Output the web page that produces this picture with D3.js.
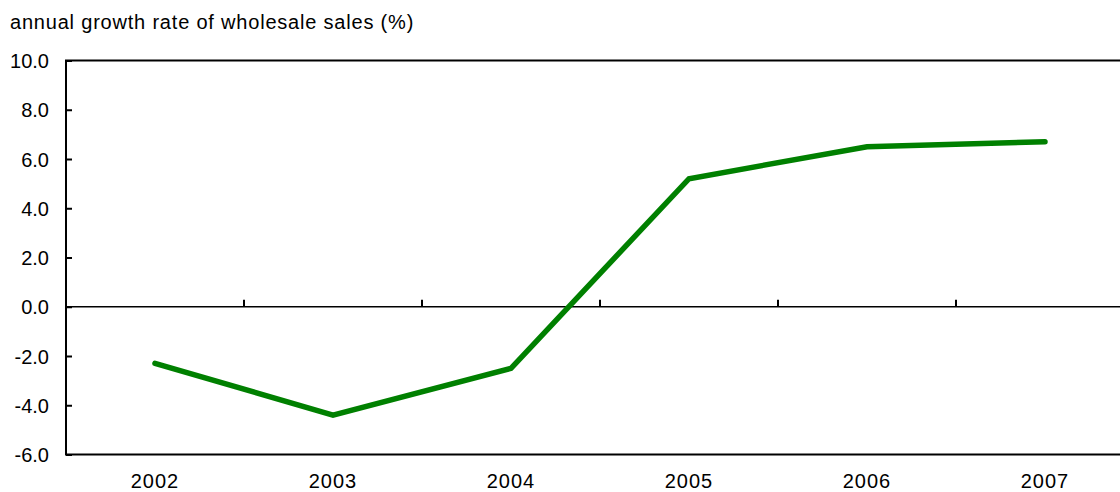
<!DOCTYPE html>
<html>
<head>
<meta charset="utf-8">
<script src="https://cdn.jsdelivr.net/npm/d3@7"></script>
<style>
  body { margin: 0; background: #fff; }
  svg text { font-family: "Liberation Sans", Arial, Helvetica, sans-serif; fill: #000; }
</style>
</head>
<body>
<script>
// data
var years = ["2002", "2003", "2004", "2005", "2006", "2007"];
var growth = [-2.3, -4.4, -2.5, 5.2, 6.5, 6.7];
var yTicks = [-6, -4, -2, 0, 2, 4, 6, 8, 10];
var title = "annual growth rate of wholesale sales (%)";

var W = 1120, H = 492;
var margin = {top: 60.5, left: 66},
  plotW = 1068,   // plot runs past the right edge of the window
  plotH = 394;

var svg = d3.select("body").append("svg")
  .attr("width", W)
  .attr("height", H);

var g = svg.append("g")
  .attr("transform", "translate(" + margin.left + "," + margin.top + ")");

var x = d3.scaleBand().domain(years).range([0, plotW]);
var y = d3.scaleLinear().domain([-6, 10]).range([plotH, 0]);

// almindelig bindestreg som minus, som i originalen
var fmt = d3.formatLocale({decimal: ".", thousands: ",", grouping: [3], currency: ["", ""], minus: "-"}).format(".1f");

// titel
svg.append("text")
  .attr("x", 10)
  .attr("y", 29)
  .attr("font-size", "20px")
  .attr("letter-spacing", "0.8px")
  .text(title);

// ramme
g.append("rect")
  .attr("x", 0).attr("y", 0)
  .attr("width", plotW).attr("height", plotH)
  .attr("fill", "none")
  .attr("stroke", "#000")
  .attr("stroke-width", 2);

// y-akse
var yAxis = g.append("g")
  .call(d3.axisLeft(y).tickValues(yTicks).tickFormat(fmt).tickSize(-6).tickPadding(17));
yAxis.select(".domain").remove();
yAxis.selectAll("line").attr("stroke-width", 2);
yAxis.selectAll("text").attr("font-size", "20px").attr("font-family", null).attr("dy", "0.36em");

// nul-linje
g.append("line")
  .attr("x1", 0).attr("x2", plotW)
  .attr("y1", y(0)).attr("y2", y(0))
  .attr("stroke", "#000")
  .attr("stroke-width", 1.5);

g.selectAll(".zt")
  .data(years.slice(1))
  .enter()
  .append("line")
  .attr("class", "zt")
  .attr("x1", function(d) { return x(d); })
  .attr("x2", function(d) { return x(d); })
  .attr("y1", y(0))
  .attr("y2", y(0) - 7)
  .attr("stroke", "#000")
  .attr("stroke-width", 2);

// x-etiketter
var xAxis = g.append("g")
  .attr("transform", "translate(0," + plotH + ")")
  .call(d3.axisBottom(x).tickSize(0).tickPadding(19));
xAxis.select(".domain").remove();
xAxis.selectAll("text").attr("font-size", "20px").attr("font-family", null).attr("letter-spacing", "1px");

// linje
var line = d3.line()
  .x(function(d, i) { return x(years[i]) + x.bandwidth() / 2; })
  .y(function(d) { return y(d); });

g.append("path")
  .datum(growth)
  .attr("d", line)
  .attr("fill", "none")
  .attr("stroke", "#008000")
  .attr("stroke-width", 5.5)
  .attr("stroke-linecap", "round")
  .attr("stroke-linejoin", "miter");
</script>
</body>
</html>
